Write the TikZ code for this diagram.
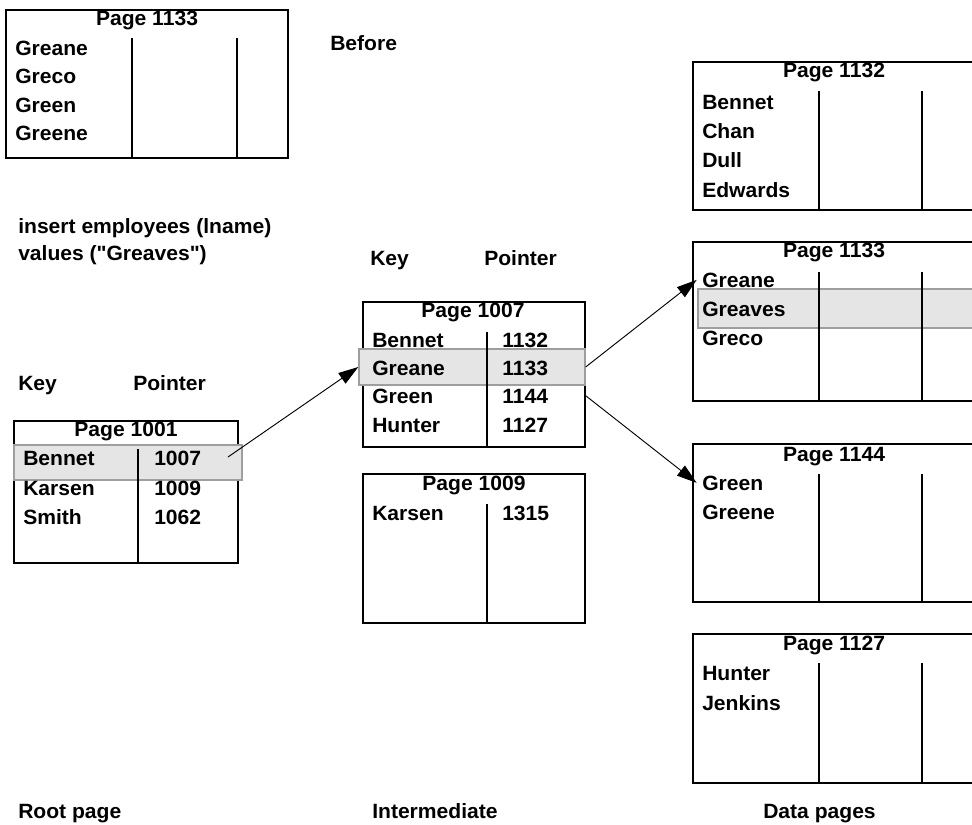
\documentclass[tikz,border=0pt]{standalone}
\usepackage{fontspec}
\setmainfont{Liberation Sans}[FakeStretch=1.02]
\usepackage{tikz}
\usetikzlibrary{arrows.meta, fit}

\tikzset{
  txt/.style={inner sep=0pt, font=\fontsize{15.5}{18}\selectfont\bfseries},
  entry/.style={txt, anchor=base west},
  ptitle/.style={txt, anchor=base},
  page/.style={draw, line width=1.4pt, inner sep=0pt},
  hlrow/.style={draw=black!38, fill=black!10, line width=1pt, inner sep=0pt},
  col/.style={line width=1.4pt},
  ptr/.style={-{Triangle[length=15pt,width=9.5pt]}, line width=0.7pt},
}

\begin{document}
\begin{tikzpicture}[x=0.75pt, y=-0.75pt]
    \path[use as bounding box] (0,0) rectangle (972,825);
    \clip (0,0) rectangle (972,825);

    % page before the insert
    \node[page, fit={(6,10) (288,158)}] (before) {};
    \draw[col] (132,38) -- (132,158) (237,38) -- (237,158);
    \node[ptitle] (tbefore) at (147,25) {Page 1133};
    \node[entry] (b1) at (15,55) {Greane};
    \node[entry] (b2) at (15,83) {Greco};
    \node[entry] (b3) at (15,112) {Green};
    \node[entry] (b4) at (15,140) {Greene};
    \node[entry] (lbefore) at (330,50) {Before};

    \node[entry] (ins1) at (18,233) {insert employees (lname)};
    \node[entry] (ins2) at (18,260) {values (\textquotedbl Greaves\textquotedbl)};

    % root page
    \node[entry] (rkey) at (18,390) {Key};
    \node[entry] (rptr) at (133,390) {Pointer};
    \node[page, fit={(14,421) (238,563)}] (p1001) {};
    \node[hlrow, fit={(14,445) (242,480)}] (hl1001) {};
    \draw[col] (138,449) -- (138,563);
    \node[ptitle] (t1001) at (126,436) {Page 1001};
    \node[entry] (r1) at (23,465) {Bennet};
    \node[entry] (r2) at (23,495) {Karsen};
    \node[entry] (r3) at (23,524) {Smith};
    \node[entry] (v1) at (154,465) {1007};
    \node[entry] (v2) at (154,495) {1009};
    \node[entry] (v3) at (154,524) {1062};
    \coordinate (a1) at (228,457);

    % intermediate pages
    \node[entry] (ikey) at (370,265) {Key};
    \node[entry] (iptr) at (484,265) {Pointer};
    \node[page, fit={(363,302) (585,447)}] (p1007) {};
    \node[hlrow, fit={(359,349) (585,385)}] (hl1007) {};
    \draw[col] (487,332) -- (487,447);
    \node[ptitle] (t1007) at (473,317) {Page 1007};
    \node[entry] (i1) at (372,347) {Bennet};
    \node[entry] (i2) at (372,375) {Greane};
    \node[entry] (i3) at (372,403) {Green};
    \node[entry] (i4) at (372,432) {Hunter};
    \node[entry] (w1) at (502,347) {1132};
    \node[entry] (w2) at (502,375) {1133};
    \node[entry] (w3) at (502,403) {1144};
    \node[entry] (w4) at (502,432) {1127};

    \node[page, fit={(363,474) (585,623)}] (p1009) {};
    \draw[col] (487,504) -- (487,623);
    \node[ptitle] (t1009) at (474,490) {Page 1009};
    \node[entry] (k1) at (372,520) {Karsen};
    \node[entry] (k2) at (502,520) {1315};

    % data pages
    \node[page, fit={(693,62) (1000,210)}] (p1132) {};
    \draw[col] (819,91) -- (819,210) (922,91) -- (922,210);
    \node[ptitle] (t1132) at (834,77) {Page 1132};
    \node[entry] (d1) at (702,109) {Bennet};
    \node[entry] (d2) at (702,138) {Chan};
    \node[entry] (d3) at (702,167) {Dull};
    \node[entry] (d4) at (702,197) {Edwards};

    \node[page, fit={(693,242) (1000,401)}] (p1133) {};
    \node[hlrow, fit={(698,289) (1000,328)}] (hl1133) {};
    \draw[col] (819,272) -- (819,401) (922,272) -- (922,401);
    \node[ptitle] (t1133) at (834,257) {Page 1133};
    \node[entry] (e1) at (702,287) {Greane};
    \node[entry] (e2) at (702,316) {Greaves};
    \node[entry] (e3) at (702,345) {Greco};

    \node[page, fit={(693,444) (1000,602)}] (p1144) {};
    \draw[col] (819,474) -- (819,602) (922,474) -- (922,602);
    \node[ptitle] (t1144) at (834,461) {Page 1144};
    \node[entry] (f1) at (702,490) {Green};
    \node[entry] (f2) at (702,519) {Greene};

    \node[page, fit={(693,634) (1000,783)}] (p1127) {};
    \draw[col] (819,663) -- (819,783) (922,663) -- (922,783);
    \node[ptitle] (t1127) at (834,650) {Page 1127};
    \node[entry] (h1) at (702,680) {Hunter};
    \node[entry] (h2) at (702,710) {Jenkins};

    % captions
    \node[entry] (croot) at (18,818) {Root page};
    \node[entry] (cmid) at (372,818) {Intermediate};
    \node[entry] (cdata) at (763,818) {Data pages};

    \path[ptr]
    (a1) edge (hl1007.west)
    (hl1007.east) edge ([xshift=-4pt]e1.west)
    (p1007.east |- i3.west) edge ([xshift=-4pt]f1.west);

\end{tikzpicture}
\end{document}
